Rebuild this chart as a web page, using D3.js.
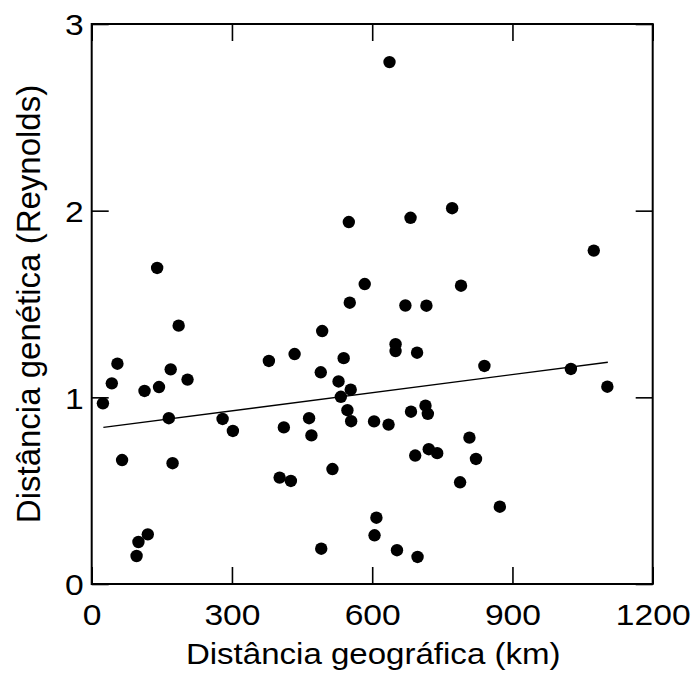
<!DOCTYPE html>
<html>
<head>
<meta charset="utf-8">
<script src="https://cdn.jsdelivr.net/npm/d3@7"></script>
<style>
  html, body { margin: 0; padding: 0; background: #fff; }
  svg text { font-family: "Liberation Sans", Arial, sans-serif; fill: #000; }
</style>
</head>
<body>
<svg id="chart" width="693" height="673"></svg>
<script>
// ---- data ----
const geoDist = [24, 43, 55, 65, 96, 100, 120, 113, 140, 144, 165, 169, 173, 186, 205,
  280, 302, 379, 402, 411, 426, 434, 465, 470, 490, 491, 493, 515, 528, 533, 539, 547,
  550, 552, 554, 555, 584, 604, 605, 609, 635, 637, 650, 650, 653, 671, 682, 683, 692,
  696, 697, 714, 716, 719, 721, 739, 771, 788, 790, 808, 822, 840, 873, 1025, 1074, 1103];
const genDist = [0.968, 1.075, 1.180, 0.664, 0.150, 0.225, 0.266, 1.034, 1.693, 1.055, 0.888, 1.150, 0.647, 1.384, 1.095,
  0.884, 0.820, 1.195, 0.570, 0.839, 0.552, 1.232, 0.888, 0.796, 1.134, 0.189, 1.355, 0.616, 1.085, 1.003, 1.210, 0.931,
  1.939, 1.507, 1.041, 0.872, 1.607, 0.871, 0.261, 0.355, 0.854, 2.796, 1.285, 1.248, 0.181, 1.492, 1.962, 0.923, 0.688,
  1.239, 0.145, 0.955, 1.491, 0.912, 0.722, 0.701, 2.013, 0.545, 1.598, 0.784, 0.670, 1.168, 0.414, 1.152, 1.786, 1.057];
const fitX = [25, 1104];
const fitY = [0.839, 1.188];
const xTicks = [0, 300, 600, 900, 1200];
const yTicks = [0, 1, 2, 3];
const xTitle = "Distância geográfica (km)";
const yTitle = "Distância genética (Reynolds)";

// ---- layout ----
const svg = d3.select("#chart");
const pL = 91.7, pR = 652.7, pT = 24, pB = 584;
const x = d3.scaleLinear().domain([0, 1200]).range([pL, pR]);
const y = d3.scaleLinear().domain([0, 3]).range([pB, pT]);
const TICK = 17;
const STRETCH = 1.12;
const fmt = d3.format("d");

function stretchText(sel) {
  sel.each(function () {
    const w = this.getComputedTextLength();
    d3.select(this).attr("textLength", w * STRETCH).attr("lengthAdjust", "spacingAndGlyphs");
  });
}

// points
svg.append("g").selectAll("circle")
  .data(geoDist.map((d, i) => [d, genDist[i]]))
  .join("circle")
  .attr("cx", d => x(d[0]))
  .attr("cy", d => y(d[1]))
  .attr("r", 6.2)
  .attr("fill", "#000");

// regression line
svg.append("line")
  .attr("x1", x(fitX[0])).attr("y1", y(fitY[0]))
  .attr("x2", x(fitX[1])).attr("y2", y(fitY[1]))
  .attr("stroke", "#000").attr("stroke-width", 1.4);

// axes with inward ticks
const axB = svg.append("g").attr("transform", `translate(0,${pB})`)
  .call(d3.axisBottom(x).tickValues(xTicks).tickFormat(fmt).tickSizeInner(-TICK).tickSizeOuter(0).tickPadding(0));
const axT = svg.append("g").attr("transform", `translate(0,${pT})`)
  .call(d3.axisTop(x).tickValues(xTicks).tickSizeInner(-TICK).tickSizeOuter(0).tickFormat(""));
const axL = svg.append("g").attr("transform", `translate(${pL},0)`)
  .call(d3.axisLeft(y).tickValues(yTicks).tickFormat(fmt).tickSizeInner(-TICK).tickSizeOuter(0).tickPadding(0));
const axR = svg.append("g").attr("transform", `translate(${pR},0)`)
  .call(d3.axisRight(y).tickValues(yTicks).tickSizeInner(-TICK).tickSizeOuter(0).tickFormat(""));

[axB, axT, axL, axR].forEach(a => {
  a.select(".domain").remove();
  a.selectAll(".tick line").attr("stroke", "#000").attr("stroke-width", 1.6);
});

axB.selectAll(".tick text")
  .attr("y", 41).attr("dy", null)
  .style("font-size", "30px").attr("font-family", null);
axL.selectAll(".tick text")
  .attr("x", -8).attr("dy", "0.36em")
  .style("font-size", "30px").attr("font-family", null);
stretchText(axB.selectAll(".tick text"));
stretchText(axL.selectAll(".tick text"));

// frame
svg.append("rect")
  .attr("x", pL).attr("y", pT)
  .attr("width", pR - pL).attr("height", pB - pT)
  .attr("fill", "none").attr("stroke", "#000").attr("stroke-width", 2);

// titles
const xt = svg.append("text")
  .attr("x", (pL + pR) / 2 + 1).attr("y", 664)
  .attr("text-anchor", "middle")
  .style("font-size", "29.5px")
  .text(xTitle);
stretchText(xt);

svg.append("text")
  .attr("transform", `translate(40,${(pT + pB) / 2}) rotate(-90)`)
  .attr("text-anchor", "middle")
  .style("font-size", "33px")
  .text(yTitle);
</script>
</body>
</html>
